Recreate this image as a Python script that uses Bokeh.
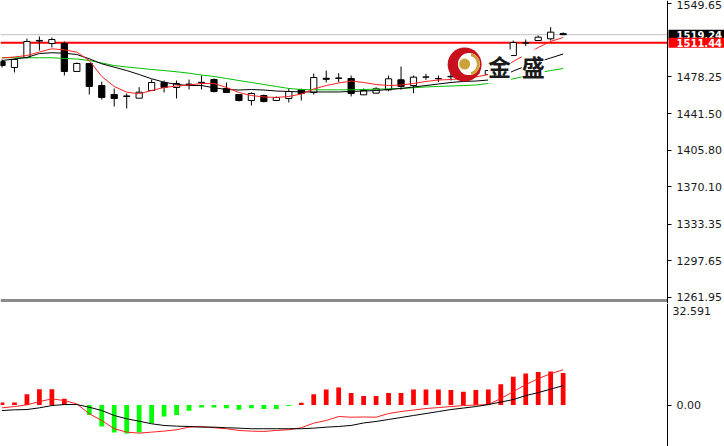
from bokeh.plotting import figure
from bokeh.models import Range1d, FixedTicker, PrintfTickFormatter, Label
from bokeh.layouts import column
from bokeh.embed import file_html
from bokeh.resources import INLINE
from bokeh.core.properties import value

# ---------------- data ----------------
opens = [1492.9, 1487.1, 1496.9, 1513.0, 1510.6, 1510.6, 1483.2, 1491.0, 1469.4, 1460.6,
         1459.2, 1457.0, 1464.5, 1472.4, 1467.5, 1470.4, 1471.9, 1475.3, 1466.5, 1460.6,
         1454.7, 1459.6, 1454.7, 1456.7, 1465.5, 1462.6, 1476.5, 1476.4, 1476.3, 1460.3,
         1461.9, 1465.2, 1475.0, 1469.4, 1477.6, 1476.0, 1478.0, 1478.0, 1481.0, 1480.2,
         1484.5, 1498.8, 1511.0, 1513.5, 1515.2, 1520.3]
highs = [1494.9, 1495.9, 1515.5, 1517.5, 1516.5, 1512.6, 1492.0, 1491.5, 1473.3, 1466.5,
         1461.6, 1467.8, 1475.3, 1474.3, 1474.3, 1475.3, 1479.2, 1476.3, 1472.4, 1460.6,
         1462.6, 1460.6, 1458.7, 1466.5, 1466.5, 1481.2, 1484.1, 1481.5, 1479.2, 1466.5,
         1467.8, 1479.2, 1488.0, 1479.2, 1480.9, 1479.2, 1482.2, 1484.0, 1486.0, 1485.0,
         1497.0, 1513.5, 1514.5, 1518.4, 1526.6, 1521.5]
lows = [1487.1, 1482.2, 1495.9, 1503.7, 1506.7, 1479.2, 1483.2, 1460.6, 1455.7, 1448.8,
        1446.9, 1457.0, 1464.5, 1462.6, 1456.7, 1465.5, 1465.5, 1462.6, 1462.6, 1453.8,
        1449.8, 1452.8, 1454.7, 1452.8, 1454.7, 1460.6, 1472.4, 1472.6, 1458.7, 1460.3,
        1461.9, 1463.8, 1465.2, 1461.9, 1475.0, 1472.7, 1474.3, 1476.0, 1479.0, 1480.2,
        1483.0, 1498.8, 1508.0, 1513.5, 1513.5, 1519.0]
closes = [1489.0, 1494.9, 1512.6, 1513.6, 1514.5, 1483.2, 1491.0, 1468.5, 1457.7, 1456.7,
          1458.7, 1462.9, 1472.4, 1467.5, 1471.4, 1470.8, 1472.6, 1463.5, 1462.6, 1454.7,
          1461.6, 1453.8, 1457.7, 1463.5, 1461.6, 1477.3, 1475.5, 1476.8, 1461.6, 1464.5,
          1466.2, 1476.0, 1468.5, 1477.6, 1477.8, 1476.3, 1478.4, 1481.0, 1483.0, 1484.1,
          1495.0, 1511.6, 1511.4, 1516.8, 1521.7, 1519.24]

ma_fast = [1496.4, 1497.4, 1498.8, 1502.3, 1505.4, 1504.4, 1502.1, 1493.9, 1478.3, 1468.5,
           1462.9, 1461.3, 1464.5, 1467.5, 1468.9, 1469.9, 1471.4, 1471.4, 1467.5, 1462.6,
           1459.6, 1458.2, 1457.7, 1458.7, 1461.1, 1466.0, 1469.4, 1471.9, 1473.8, 1472.4,
           1470.4, 1469.4, 1469.9, 1471.4, 1473.4, 1474.8, 1475.3, 1476.3, 1477.8, 1480.2,
           1486.1, 1493.0, 1499.8, 1506.7, 1512.6, 1516.5]
ma_mid = [1493.9, 1495.4, 1496.9, 1500.8, 1501.5, 1501.1, 1499.8, 1495.6, 1490.7, 1487.4,
          1484.1, 1480.2, 1476.0, 1472.7, 1470.4, 1469.4, 1469.4, 1467.2, 1465.5, 1465.0,
          1465.5, 1465.0, 1464.0, 1463.6, 1463.1, 1463.1, 1463.1, 1463.1, 1463.6, 1464.0,
          1464.5, 1465.5, 1466.5, 1468.0, 1469.4, 1470.9, 1472.4, 1473.4, 1473.8, 1474.8,
          1477.8, 1483.6, 1488.5, 1492.5, 1496.4, 1500.3]
ma_slow = [1496.6, 1496.6, 1496.6, 1496.6, 1496.6, 1495.9, 1495.4, 1493.9, 1491.5, 1489.0,
           1487.6, 1486.4, 1485.1, 1484.1, 1482.9, 1481.5, 1479.7, 1478.3, 1476.3, 1474.3,
           1472.4, 1470.4, 1468.5, 1466.5, 1465.5, 1465.2, 1465.2, 1465.2, 1465.2, 1465.5,
           1465.8, 1466.2, 1466.5, 1467.2, 1468.0, 1468.5, 1468.9, 1469.4, 1469.9, 1471.4,
           1473.4, 1476.0, 1478.7, 1481.7, 1484.1, 1486.1]

macd_hist = [0.8, 0.8, 3.5, 5.1, 5.1, 2.0, 0.0, -3.2, -6.9, -8.8,
             -9.1, -8.8, -5.8, -3.7, -3.2, -1.8, -0.8, -0.8, -1.0, -1.5,
             -1.0, -1.3, -1.3, -0.3, 0.7, 3.5, 5.0, 5.6, 3.9, 2.9,
             2.9, 3.9, 3.9, 5.0, 5.0, 5.0, 4.8, 4.3, 4.8, 5.0,
             6.7, 9.1, 10.1, 10.6, 10.8, 10.3]
macd_main = [-0.89, -0.48, 0.06, 1.12, 1.98, 1.44, 0.38, -2.81, -4.95, -7.60,
             -8.69, -9.01, -8.69, -8.37, -7.92, -7.09, -6.87, -7.28, -7.60, -8.15,
             -8.37, -8.47, -8.15, -7.92, -7.28, -5.81, -4.95, -3.67, -3.90, -3.83,
             -3.90, -2.72, -2.08, -1.60, -1.12, -0.80, -0.48, -0.16, 0.00, 0.16,
             2.08, 4.31, 6.55, 8.47, 10.06, 11.34]
macd_signal = [-1.76, -1.53, -1.44, -0.89, -0.16, 0.16, 0.16, -0.70, -1.76, -3.35,
               -4.41, -5.18, -6.01, -6.55, -6.77, -6.87, -7.09, -7.09, -7.28, -7.41,
               -7.60, -7.60, -7.60, -7.60, -7.60, -7.41, -7.09, -6.87, -6.55, -5.75,
               -5.27, -4.63, -3.99, -3.35, -2.72, -2.08, -1.44, -0.96, -0.48, 0.16,
               0.96, 1.76, 3.04, 3.99, 5.11, 6.23]

price_ticks = [1261.95, 1297.65, 1333.35, 1370.10, 1405.80, 1441.50, 1478.25, 1549.65]
macd_ticks = [0.0]
macd_max = 32.591
line_price = 1511.44
bid_price = 1519.24
watermark_chars = ["金", "盛"]
# ------------------------------------------------------------

idx = list(range(len(opens)))
body_top = [max(o, c) for o, c in zip(opens, closes)]
body_bot = [min(o, c) for o, c in zip(opens, closes)]
body_fill = ["white" if c >= o else "black" for o, c in zip(opens, closes)]
hist_color = ["#ff0000" if v > 0 else "#00ff00" for v in macd_hist]

FONT = "DejaVu Sans"
LABEL_SIZE = "11px"
TAG_SIZE = "10px"
X_START, X_END = -0.12, 57.94     # whole 724px canvas is the frame
AXIS_X = 53.37                    # where the price scale sits (bar-index units)
SEPARATOR_Y = 1258.7              # panel divider, just under the lowest price tick
x_range = Range1d(X_START, X_END)


def style_right_axis(ax, ticks):
    ax.fixed_location = AXIS_X
    ax.ticker = FixedTicker(ticks=ticks)
    ax.formatter = PrintfTickFormatter(format="%.2f")
    ax.major_label_text_font = FONT
    ax.major_label_text_font_size = LABEL_SIZE
    ax.major_label_text_color = "#1a1a1a"
    ax.axis_line_color = "black"
    ax.major_tick_line_color = "black"
    ax.major_tick_out = 4
    ax.major_tick_in = 0
    ax.minor_tick_line_color = None
    ax.major_label_standoff = 5


# ---------------- price panel ----------------
p = figure(frame_width=724, frame_height=303, x_range=x_range,
           y_range=Range1d(1255.77, 1552.74), y_axis_location="right",
           x_axis_location="below", toolbar_location=None, output_backend="svg",
           min_border_left=0, min_border_top=0, min_border_bottom=0, min_border_right=0,
           background_fill_color="white", border_fill_color="white")
p.outline_line_color = None
p.grid.visible = False

# panel separator (bottom axis line only, stopping at the price scale)
p.xaxis.fixed_location = SEPARATOR_Y
p.xaxis.ticker = FixedTicker(ticks=[])
p.xaxis.bounds = (X_START, AXIS_X)
p.xaxis.major_tick_line_color = None
p.xaxis.minor_tick_line_color = None
p.xaxis.major_tick_out = 0
p.xaxis.minor_tick_out = 0
p.xaxis.major_label_standoff = 0
p.xaxis.major_label_text_font_size = "0px"
p.xaxis.axis_line_color = "#8a8a8a"
p.xaxis.axis_line_width = 3

style_right_axis(p.yaxis[0], price_ticks)

# price reference lines (up to the price scale)
p.segment(x0=[X_START], y0=[bid_price], x1=[AXIS_X], y1=[bid_price],
          line_color="#c0c0c0", line_width=1)
p.segment(x0=[X_START], y0=[line_price], x1=[AXIS_X], y1=[line_price],
          line_color="#ff0000", line_width=2)

# candles
p.segment(idx, highs, idx, lows, line_color="black", line_width=1)
p.vbar(x=idx, top=body_top, bottom=body_bot, width=0.5, fill_color=body_fill,
       line_color="black", line_width=1)

# moving averages
p.line(idx, ma_slow, line_color="#00c000", line_width=1)
p.line(idx, ma_mid, line_color="black", line_width=1)
p.line(idx, ma_fast, line_color="#ff2020", line_width=1)

# watermark logo
p.scatter([37.1], [1490.0], size=34, fill_color="#c8101c", line_color=None)
p.scatter([37.45], [1490.4], size=22, fill_color="white", line_color=None)
p.arc([37.4], [1490.4], radius=10, radius_units="screen", start_angle=-1.3, end_angle=1.3,
      line_color="#c9a23a", line_width=3)
p.scatter([37.1], [1490.4], size=11, fill_color="#c9a23a", line_color=None)
p.text(x=[39.9, 42.6], y=[1488.1, 1488.1], text=watermark_chars,
       text_font=value("Noto Sans CJK SC"), text_font_size="23px", text_font_style="bold",
       text_color="#1a1a1a", text_align="center", text_baseline="middle",
       background_fill_color="white")

# right price tags (padding = left, right, top, bottom)
p.add_layout(Label(x=AXIS_X, y=bid_price, x_offset=1, text="1519.24", text_color="white",
                   text_font=FONT, text_font_size=TAG_SIZE, text_font_style="bold",
                   text_baseline="middle", background_fill_color="black",
                   padding=(8, 4, 1, 1)))
p.add_layout(Label(x=AXIS_X, y=line_price, x_offset=1, text="1511.44", text_color="white",
                   text_font=FONT, text_font_size=TAG_SIZE, text_font_style="bold",
                   text_baseline="middle", background_fill_color="#ff0000",
                   padding=(8, 4, 1, 1)))

# ---------------- MACD panel ----------------
m = figure(frame_width=724, frame_height=143, x_range=x_range,
           y_range=Range1d(-13.3, macd_max), y_axis_location="right",
           x_axis_location=None, toolbar_location=None, output_backend="svg",
           min_border_left=0, min_border_top=0, min_border_bottom=0, min_border_right=0,
           background_fill_color="white", border_fill_color="white")
m.outline_line_color = None
m.grid.visible = False
style_right_axis(m.yaxis[0], macd_ticks)

m.vbar(x=idx, top=macd_hist, bottom=0, width=0.38, fill_color=hist_color, line_color=None)
m.line(idx, macd_main, line_color="#ff2020", line_width=1)
m.line(idx, macd_signal, line_color="black", line_width=1)

m.add_layout(Label(x=AXIS_X, y=macd_max, x_offset=5, y_offset=-3, text="32.591",
                   text_color="#1a1a1a", text_font=FONT, text_font_size=LABEL_SIZE,
                   text_baseline="top"))

layout = column(p, m, spacing=0)
open("out.html", "w").write(file_html(layout, INLINE))
